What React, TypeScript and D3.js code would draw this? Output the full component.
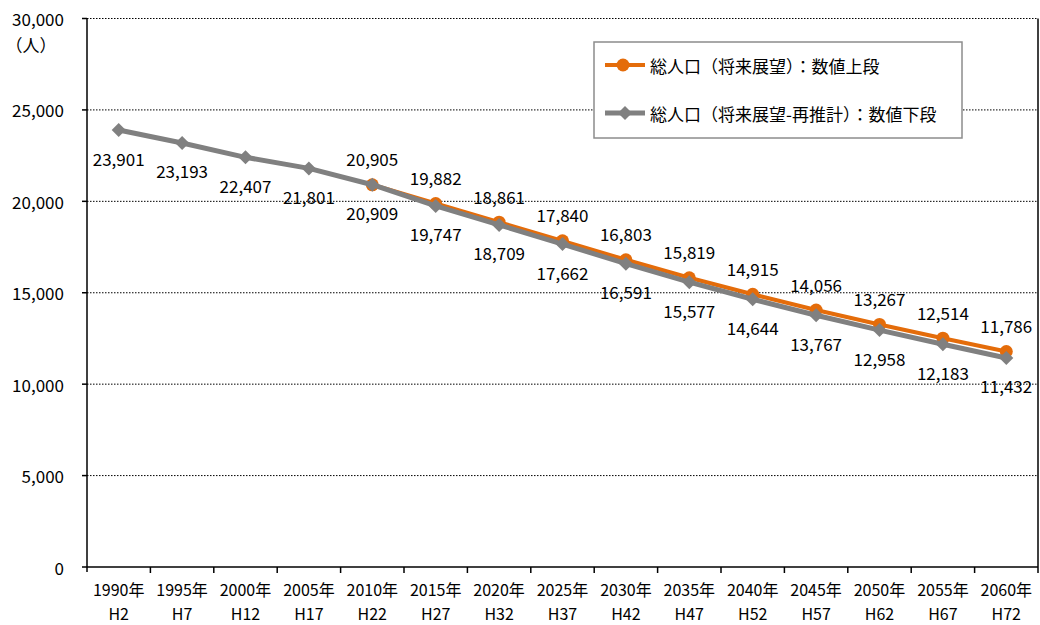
import * as d3 from "d3";

// categories (year / Heisei era)
const years = ["1990年", "1995年", "2000年", "2005年", "2010年", "2015年", "2020年", "2025年", "2030年", "2035年", "2040年", "2045年", "2050年", "2055年", "2060年"];
const eras = ["H2", "H7", "H12", "H17", "H22", "H27", "H32", "H37", "H42", "H47", "H52", "H57", "H62", "H67", "H72"];

// 総人口（将来展望） - starts at 2010
const outlook: (number | null)[] = [null, null, null, null, 20905, 19882, 18861, 17840, 16803, 15819, 14915, 14056, 13267, 12514, 11786];
// 総人口（将来展望-再推計）
const reestimate: number[] = [23901, 23193, 22407, 21801, 20909, 19747, 18709, 17662, 16591, 15577, 14644, 13767, 12958, 12183, 11432];

const yTicks = [0, 5000, 10000, 15000, 20000, 25000, 30000];
const seriesNames = ["総人口（将来展望）：数値上段", "総人口（将来展望-再推計）：数値下段"];

const ORANGE = "#E46C0A";
const GRAY = "#808080";
const FONT = "'Noto Sans CJK JP', 'Noto Sans', sans-serif";

export default function App() {
  const width = 1040;
  const height = 625;
  const margin = { top: 18.5, right: 2, bottom: 58, left: 87 };

  const x = d3.scaleBand<string>()
    .domain(years)
    .range([margin.left, width - margin.right]);

  const y = d3.scaleLinear()
    .domain([0, 30000])
    .range([height - margin.bottom, margin.top]);

  const cx = (i: number) => (x(years[i]) || 0) + x.bandwidth() / 2;
  const fmt = d3.format(",");

  const line = d3.line<number | null>()
    .defined((d) => d != null)
    .x((_, i) => cx(i))
    .y((d) => y(d as number));

  const diamond = (px: number, py: number, s: number) =>
    `M${px},${py - s}L${px + s},${py}L${px},${py + s}L${px - s},${py}Z`;

  const x0 = margin.left;
  const x1 = width - margin.right;
  const y0 = y(0);
  const yTop = y(30000);

  return (
    <svg width={width} height={height} style={{ position: "absolute", left: 0, top: 0, background: "#fff" }} fontFamily={FONT}>
      {/* gridlines */}
      {yTicks.filter((t) => t > 0).map((t) => (
        <line key={t} x1={x0} x2={x1} y1={y(t)} y2={y(t)} stroke="#000" strokeWidth={1} strokeDasharray="1.5,1.5" />
      ))}
      {/* right border */}
      <line x1={x1} x2={x1} y1={yTop} y2={y0} stroke="#000" strokeWidth={1.5} />

      {/* y axis */}
      <line x1={x0} x2={x0} y1={yTop} y2={y0 + 5} stroke="#000" strokeWidth={1.5} />
      {yTicks.map((t) => (
        <g key={t}>
          <line x1={x0 - 5} x2={x0} y1={y(t)} y2={y(t)} stroke="#000" strokeWidth={1.5} />
          <text x={64} y={y(t)} textAnchor="end" dominantBaseline="central" fontSize={17} fill="#000">{fmt(t)}</text>
        </g>
      ))}
      <text x={31} y={44} textAnchor="middle" dominantBaseline="central" fontSize={17} fill="#000">（人）</text>

      {/* x axis */}
      <line x1={x0} x2={x1} y1={y0} y2={y0} stroke="#000" strokeWidth={1.5} />
      {years.map((yr, i) => (
        <g key={yr}>
          <line x1={x(yr)! + x.bandwidth()} x2={x(yr)! + x.bandwidth()} y1={y0} y2={y0 + 6} stroke="#000" strokeWidth={1.5} />
          <text x={cx(i)} y={589} textAnchor="middle" dominantBaseline="central" fontSize={16} fill="#000">{yr}</text>
          <text x={cx(i)} y={613} textAnchor="middle" dominantBaseline="central" fontSize={16} fill="#000">{eras[i]}</text>
        </g>
      ))}

      {/* orange series */}
      <path d={line(outlook)!} fill="none" stroke={ORANGE} strokeWidth={4} strokeLinejoin="round" />
      {outlook.map((v, i) => v == null ? null : (
        <circle key={i} cx={cx(i)} cy={y(v)} r={6.5} fill={ORANGE} />
      ))}

      {/* gray series */}
      <path d={line(reestimate)!} fill="none" stroke={GRAY} strokeWidth={5} strokeLinejoin="round" />
      {reestimate.map((v, i) => (
        <path key={i} d={diamond(cx(i), y(v), 7)} fill={GRAY} />
      ))}

      {/* data labels */}
      {outlook.map((v, i) => v == null ? null : (
        <text key={i} x={cx(i)} y={y(v) - 26} textAnchor="middle" dominantBaseline="central" fontSize={17} fill="#000">{fmt(v)}</text>
      ))}
      {reestimate.map((v, i) => (
        <text key={i} x={cx(i)} y={y(v) + 28} textAnchor="middle" dominantBaseline="central" fontSize={17} fill="#000">{fmt(v)}</text>
      ))}

      {/* legend */}
      <rect x={594} y={42} width={368} height={96} fill="#fff" stroke="#8c8c8c" strokeWidth={1.5} />
      <line x1={605} x2={645} y1={65} y2={65} stroke={ORANGE} strokeWidth={4} />
      <circle cx={623} cy={65} r={6.5} fill={ORANGE} />
      <text x={650} y={65} dominantBaseline="central" fontSize={17} fill="#000">{seriesNames[0]}</text>
      <line x1={605} x2={645} y1={113} y2={113} stroke={GRAY} strokeWidth={5} />
      <path d={diamond(625, 113, 7)} fill={GRAY} />
      <text x={650} y={113} dominantBaseline="central" fontSize={17} fill="#000">{seriesNames[1]}</text>
    </svg>
  );
}
